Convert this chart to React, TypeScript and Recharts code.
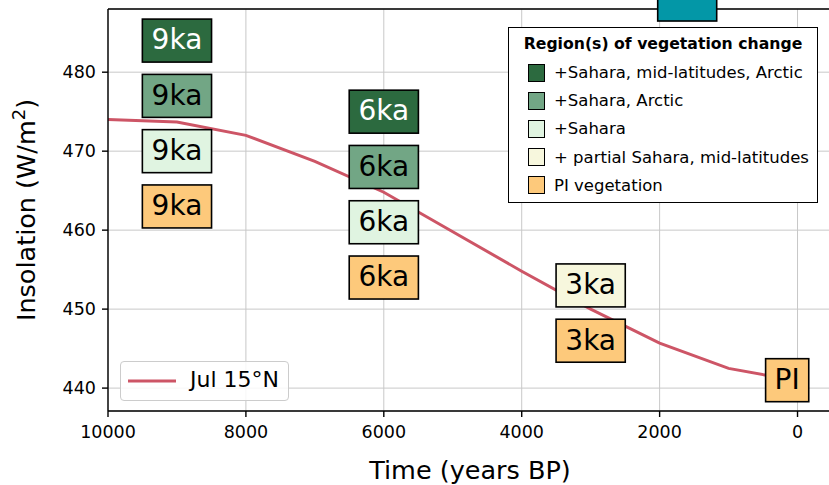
import React from 'react';
import {
  ComposedChart,
  Line,
  XAxis,
  YAxis,
  CartesianGrid,
  ReferenceDot,
  ReferenceLine,
  Legend,
} from 'recharts';

// July insolation at 15°N over the Holocene
const years = [10000, 9000, 8000, 7000, 6000, 5000, 4000, 3000, 2000, 1000, 0];
const insolationJul15N = [474.0, 473.7, 472.0, 468.7, 464.8, 459.8, 454.8, 450.0, 445.7, 442.5, 440.9];

const xTicks = [10000, 8000, 6000, 4000, 2000, 0];
const yTicks = [440, 450, 460, 470, 480];
const X_DOMAIN: [number, number] = [-500, 10000];
const Y_DOMAIN: [number, number] = [437.1, 488];

// Vegetation-change classes used by the experiment boxes
const vegetationClasses = [
  '+Sahara, mid-latitudes, Arctic',
  '+Sahara, Arctic',
  '+Sahara',
  '+ partial Sahara, mid-latitudes',
  'PI vegetation',
];

// Experiments: time slice, insolation level where the box sits, label, class index
const experimentYears = [9000, 9000, 9000, 9000, 6000, 6000, 6000, 6000, 3000, 3000, 150];
const experimentLevels = [484, 477, 470, 463, 475, 468, 461, 454, 453, 446, 441];
const experimentLabels = ['9ka', '9ka', '9ka', '9ka', '6ka', '6ka', '6ka', '6ka', '3ka', '3ka', 'PI'];
const experimentClass = [0, 1, 2, 4, 0, 1, 2, 4, 3, 4, 4];

// Box above the plotted range
const offscaleYear = 1600;
const offscaleLevel = 489.2;

const classColors = ['#2c6a3f', '#72a685', '#e0f4e1', '#f7f7dd', '#fdc97b'];
const classText = ['#ffffff', '#000000', '#000000', '#000000', '#000000'];
const offscaleColor = '#0397a7';
const lineColor = '#cd5566';

const FONT = "'DejaVu Sans', sans-serif";

const lineData = years.map((year, i) => ({ year, jul: insolationJul15N[i] }));

const glyphWidths: Record<string, number> = {
  '9': 0.636, '6': 0.636, '3': 0.636, k: 0.579, a: 0.613, P: 0.603, I: 0.295,
};

function textWidth(s: string, size: number) {
  let w = 0;
  for (const ch of s) w += glyphWidths[ch] ?? 0.6;
  return w * size;
}

type BoxProps = { cx?: number; cy?: number; text: string; fill: string; color: string; minWidth?: number };

function ExperimentBox({ cx = 0, cy = 0, text, fill, color, minWidth = 0 }: BoxProps) {
  const fs = 28;
  const w = Math.max(textWidth(text, fs) + 18, minWidth);
  const h = 43;
  return (
    <g>
      <rect x={cx - w / 2} y={cy - h / 2} width={w} height={h} fill={fill} stroke="#000" strokeWidth={1.6} />
      {text ? (
        <text x={cx} y={cy + 8.8} textAnchor="middle" fontFamily={FONT} fontSize={fs} fill={color}>
          {text}
        </text>
      ) : null}
    </g>
  );
}

function LineLegend() {
  return (
    <div
      style={{
        width: 169,
        height: 40,
        boxSizing: 'border-box',
        border: '1.2px solid #cccccc',
        borderRadius: 4,
        background: 'rgba(255,255,255,0.85)',
        position: 'relative',
        fontFamily: FONT,
      }}
    >
      <svg width={60} height={40} style={{ position: 'absolute', left: 0, top: 0 }}>
        <line x1={7} x2={55} y1={19} y2={19} stroke={lineColor} strokeWidth={3} />
      </svg>
      <span style={{ position: 'absolute', left: 69, top: 4, fontSize: 22, lineHeight: '28px', color: '#000', whiteSpace: 'nowrap' }}>
        Jul 15°N
      </span>
    </div>
  );
}

function VegetationLegend() {
  return (
    <div
      style={{
        position: 'absolute',
        left: 508,
        top: 27,
        width: 310,
        height: 176,
        boxSizing: 'border-box',
        border: '1.6px solid #000',
        background: '#fff',
        fontFamily: FONT,
        color: '#000',
      }}
    >
      <div style={{ position: 'absolute', left: 0, width: '100%', top: 6, textAlign: 'center', fontWeight: 'bold', fontSize: 15.7, lineHeight: '20px' }}>
        Region(s) of vegetation change
      </div>
      {vegetationClasses.map((name, i) => (
        <div key={name} style={{ position: 'absolute', left: 19, top: 35 + i * 28.2, height: 19, display: 'flex', alignItems: 'center' }}>
          <div style={{ width: 17, height: 18, boxSizing: 'border-box', border: '1.4px solid #000', background: classColors[i] }} />
          <span style={{ marginLeft: 9, fontSize: 16.5, whiteSpace: 'nowrap' }}>{name}</span>
        </div>
      ))}
    </div>
  );
}

export default function App() {
  return (
    <div style={{ position: 'absolute', left: 0, top: 0, width: 829, height: 485, overflow: 'hidden', background: '#fff' }}>
      <ComposedChart width={832} height={485} data={lineData} margin={{ top: 9, right: 0, bottom: 0, left: 8 }}>
        <CartesianGrid stroke="#c8c8c8" strokeWidth={1} />
        <XAxis
          dataKey="year"
          type="number"
          domain={X_DOMAIN}
          reversed
          allowDataOverflow
          ticks={xTicks}
          height={74}
          tickSize={6}
          tickMargin={9}
          stroke="#000"
          strokeWidth={1.4}
          tick={{ fill: '#000', fontSize: 17.5, fontFamily: FONT }}
          label={(p: any) => {
            const vb = p.viewBox || {};
            return (
              <text x={vb.x + vb.width / 2} y={479} textAnchor="middle" fontFamily={FONT} fontSize={25.5} fill="#000">
                Time (years BP)
              </text>
            );
          }}
        />
        <YAxis
          type="number"
          domain={Y_DOMAIN}
          allowDataOverflow
          ticks={yTicks}
          width={100}
          tickSize={6}
          tickMargin={6}
          stroke="#000"
          strokeWidth={1.4}
          tick={{ fill: '#000', fontSize: 17.5, fontFamily: FONT }}
          label={(p: any) => {
            const vb = p.viewBox || {};
            const cy = vb.y + vb.height / 2;
            return (
              <text transform={`translate(35, ${cy}) rotate(-90)`} textAnchor="middle" fontFamily={FONT} fontSize={25.5} fill="#000">
                Insolation (W/m
                <tspan dy={-10} fontSize={18}>2</tspan>
                <tspan dy={10}>)</tspan>
              </text>
            );
          }}
        />
        <ReferenceLine y={Y_DOMAIN[1]} stroke="#000" strokeWidth={1.4} ifOverflow="visible" />
        <Line
          type="linear"
          dataKey="jul"
          name="Jul 15°N"
          stroke={lineColor}
          strokeWidth={3}
          dot={false}
          isAnimationActive={false}
        />
        {experimentYears.map((yr, i) => (
          <ReferenceDot
            key={i}
            x={yr}
            y={experimentLevels[i]}
            ifOverflow="visible"
            shape={(p: any) => (
              <ExperimentBox
                cx={p.cx}
                cy={p.cy}
                text={experimentLabels[i]}
                fill={classColors[experimentClass[i]]}
                color={classText[experimentClass[i]]}
              />
            )}
          />
        ))}
        <ReferenceDot
          x={offscaleYear}
          y={offscaleLevel}
          ifOverflow="visible"
          shape={(p: any) => <ExperimentBox cx={p.cx} cy={p.cy} text="" fill={offscaleColor} color="#000" minWidth={59} />}
        />
        <Legend
          layout="horizontal"
          align="center"
          verticalAlign="middle"
          wrapperStyle={{ position: 'absolute', left: 120, top: 361, width: 169, height: 40 }}
          content={() => <LineLegend />}
        />
      </ComposedChart>
      <VegetationLegend />
    </div>
  );
}
